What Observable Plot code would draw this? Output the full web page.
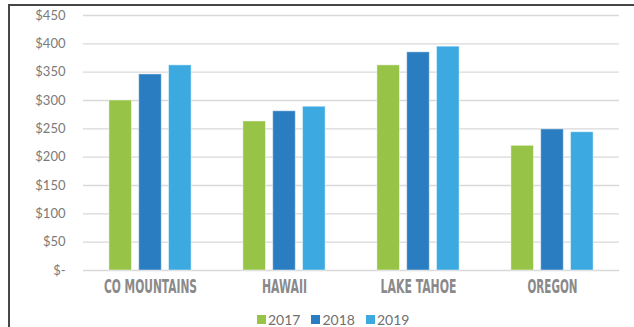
<!DOCTYPE html>
<html>
<head>
<meta charset="utf-8">
<script src="https://cdn.jsdelivr.net/npm/d3@7"></script>
<script src="https://cdn.jsdelivr.net/npm/@observablehq/plot@0.6"></script>
<style>
  html, body { margin: 0; padding: 0; background: #fff; width: 634px; height: 327px; overflow: hidden; }
  #frame { position: absolute; left: 8px; top: 4px; width: 700px; height: 400px;
           border-top: 2px solid #474747; border-left: 2px solid #474747; box-sizing: border-box; }
  #chart { position: absolute; left: 0; top: 0; }
  #legend { position: absolute; left: 257px; top: 311px; display: flex; align-items: center;
            font-family: Lato, "DejaVu Sans", sans-serif; font-size: 14px; color: #6f6f6f; }
  .item { display: flex; align-items: center; margin-right: 11px; }
  .sw { width: 9px; height: 9px; margin-right: 2px; }
</style>
</head>
<body>
<div id="frame"></div>
<div id="chart"></div>
<div id="legend"></div>
<script>
const places = ["CO MOUNTAINS", "HAWAII", "LAKE TAHOE", "OREGON"];
const years = ["2017", "2018", "2019"];
const values2017 = [300, 263, 362, 220];
const values2018 = [346, 281, 385, 249];
const values2019 = [362, 289, 395, 244];
const yTicks = [0, 50, 100, 150, 200, 250, 300, 350, 400, 450];
const colors = ["#97c347", "#2a7dc0", "#3caae0"];

const series = [values2017, values2018, values2019];
const data = [];
places.forEach((p, i) => years.forEach((y, j) => data.push({place: p, year: y, value: series[j][i]})));

const plot = Plot.plot({
  width: 634,
  height: 305,
  marginTop: 15,
  marginBottom: 35,
  marginLeft: 81,
  marginRight: 14,
  style: {fontFamily: "Lato, 'DejaVu Sans', sans-serif", background: "transparent"},
  fx: {domain: places, padding: 0, label: null},
  x: {domain: years, paddingInner: 0.243, paddingOuter: 0.868, round: false, axis: null},
  y: {domain: [0, 450], label: null},
  color: {domain: years, range: colors},
  marks: [
    Plot.gridY(yTicks, {stroke: "#d9d9d9", strokeOpacity: 1, strokeWidth: 1.3}),
    Plot.axisY(yTicks, {tickSize: 0, tickPadding: 18, fontSize: 13, fill: "#7a7a7a",
      tickFormat: d => d === 0 ? "$-" : "$" + d, label: null}),
    Plot.barY(data, {fx: "place", x: "year", y: "value", fill: "year",
      stroke: "#ffffff", strokeOpacity: 0.45, strokeWidth: 1}),
    Plot.axisFx({anchor: "bottom", tickSize: 0, tickPadding: 9, fontSize: 19, fontWeight: "bold",
      fill: "#8a8a8a", label: null, fontFamily: "'Liberation Sans Narrow', 'DejaVu Sans Condensed', 'Liberation Sans', sans-serif"})
  ]
});
document.getElementById("chart").appendChild(plot);

// condense the category labels to match the narrow display face
const targetWidths = {"CO MOUNTAINS": 93, "HAWAII": 45, "LAKE TAHOE": 76, "OREGON": 50};
d3.select(plot).selectAll("text").each(function() {
  const t = this.textContent;
  if (targetWidths[t]) {
    this.setAttribute("textLength", targetWidths[t]);
    this.setAttribute("lengthAdjust", "spacingAndGlyphs");
  }
});

const legend = document.getElementById("legend");
years.forEach((y, i) => {
  const item = document.createElement("div");
  item.className = "item";
  const sw = document.createElement("div");
  sw.className = "sw";
  sw.style.background = colors[i];
  const label = document.createElement("span");
  label.textContent = y;
  item.appendChild(sw);
  item.appendChild(label);
  legend.appendChild(item);
});
</script>
</body>
</html>
